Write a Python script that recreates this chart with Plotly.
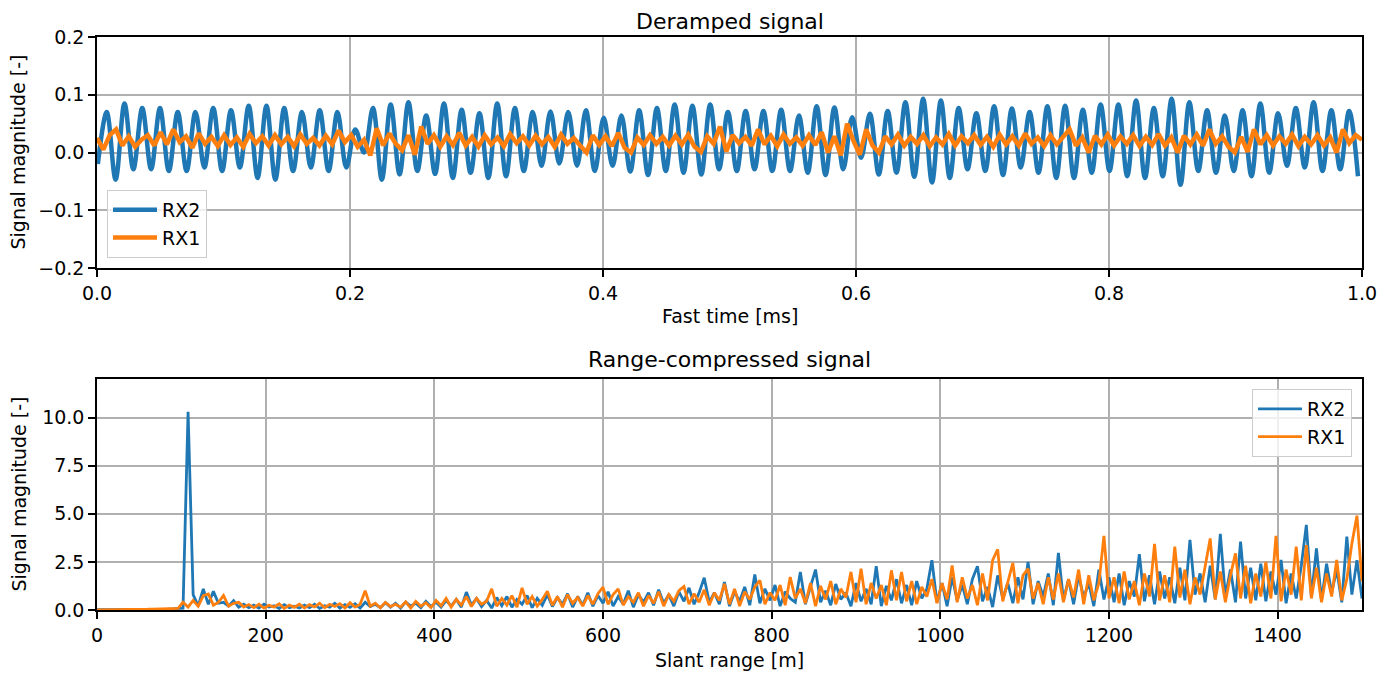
import numpy as np
import plotly.graph_objects as go

# ---------------- Top panel: deramped signal ----------------
# RX2: successive peak and trough values of the oscillation
rx2_peaks = [0.070, 0.085, 0.077, 0.077, 0.070, 0.070, 0.077, 0.073, 0.081, 0.081, 0.077, 0.070, 0.073, 0.070, 0.040, 0.077, 0.083, 0.087,
             0.064, 0.085, 0.074, 0.068, 0.085, 0.077, 0.070, 0.071, 0.070, 0.073, 0.060, 0.064, 0.073, 0.077, 0.083, 0.081, 0.083,
             0.070, 0.072, 0.072, 0.074, 0.064, 0.080, 0.078, 0.061, 0.067, 0.072, 0.087, 0.093, 0.090, 0.077, 0.068, 0.080, 0.076, 0.070,
             0.080, 0.081, 0.074, 0.083, 0.083, 0.090, 0.077, 0.093, 0.087, 0.073, 0.064, 0.073, 0.085, 0.068, 0.077, 0.087, 0.073, 0.072]
rx2_troughs = [-0.020,
               -0.047, -0.029, -0.029, -0.032, -0.032, -0.026, -0.032, -0.026, -0.044, -0.047, -0.032, -0.026, -0.032, -0.026, 0.000, -0.047, -0.038,
               -0.032, -0.037, -0.044, -0.035, -0.044, -0.041, -0.032, -0.023, -0.019, -0.023, -0.032, -0.023, -0.033, -0.039, -0.032, -0.035, -0.038, -0.029,
               -0.032, -0.029, -0.032, -0.032, -0.035, -0.039, -0.029, -0.009, -0.038, -0.035, -0.042, -0.052, -0.044, -0.029, -0.032, -0.039, -0.026, -0.035,
               -0.044, -0.044, -0.035, -0.032, -0.041, -0.044, -0.041, -0.056, -0.032, -0.035, -0.032, -0.041, -0.035, -0.023, -0.026, -0.032, -0.029, -0.041]
rx2_first_peak_ms = 0.0077
rx2_period_ms = 0.01403

# RX1: sampled values across the 1 ms window
rx1_top = [0.025, 0.005, 0.030, 0.040, 0.012, 0.028, 0.010, 0.022, 0.030, 0.012,
           0.035, 0.014, 0.040, 0.018, 0.028, 0.008, 0.033, 0.015, 0.027, 0.011,
           0.030, 0.013, 0.026, 0.010, 0.032, 0.016, 0.028, 0.012, 0.030, 0.014,
           0.027, 0.011, 0.031, 0.015, 0.025, 0.012, 0.029, 0.014, 0.038, 0.018,
           0.030, 0.010, 0.022, -0.005, 0.042, 0.012, 0.033, 0.015, 0.004, 0.030,
           -0.004, 0.045, 0.015, 0.030, 0.010, 0.028, 0.013, 0.034, 0.012, 0.027,
           0.010, 0.030, 0.014, 0.026, 0.011, 0.032, 0.016, 0.028, 0.012, 0.029,
           0.014, 0.027, 0.010, 0.031, 0.015, 0.025, 0.012, 0.000, 0.030, 0.013,
           0.028, 0.011, 0.034, 0.008, 0.000, 0.026, 0.013, 0.030, 0.015, 0.027,
           0.012, 0.029, 0.014, 0.031, 0.010, 0.001, 0.028, 0.015, 0.045, 0.002,
           0.030, 0.016, 0.027, 0.012, 0.040, 0.014, 0.029, 0.011, 0.031, 0.015,
           0.026, 0.012, 0.030, 0.013, 0.035, 0.000, 0.028, -0.005, 0.050, 0.020,
           -0.004, 0.040, 0.012, 0.000, 0.028, 0.014, 0.031, 0.012, 0.027, 0.015,
           0.030, 0.011, 0.026, 0.014, 0.032, 0.012, 0.028, 0.016, 0.030, 0.013,
           0.027, 0.010, 0.031, 0.014, 0.028, 0.012, 0.033, 0.015, 0.026, 0.011,
           0.030, 0.014, 0.027, 0.040, 0.012, 0.026, 0.000, 0.029, 0.014, 0.031,
           0.012, 0.028, 0.015, 0.030, 0.011, 0.027, 0.013, 0.032, 0.012, 0.026,
           0.000, 0.029, 0.014, 0.031, 0.012, 0.040, 0.015, 0.028, 0.010, 0.000,
           0.027, 0.001, 0.040, 0.014, 0.030, 0.012, 0.028, 0.015, 0.031, 0.011,
           0.027, 0.014, 0.030, 0.012, 0.026, 0.000, 0.040, 0.016, 0.030, 0.022]

# ---------------- Bottom panel: range-compressed ----------------
range_step_m = 6
rx2_bottom = [0.02, 0.02, 0.02, 0.02, 0.02, 0.02, 0.02, 0.02, 0.03, 0.03,
              0.03, 0.04, 0.04, 0.05, 0.05, 0.06, 0.07, 0.10, 10.30, 0.80,
              0.20, 1.10, 0.30, 0.97, 0.35, 0.40, 0.20, 0.49, 0.15, 0.30,
              0.12, 0.25, 0.10, 0.30, 0.15, 0.22, 0.08, 0.28, 0.12, 0.20,
              0.10, 0.25, 0.12, 0.30, 0.08, 0.22, 0.15, 0.35, 0.10, 0.28,
              0.14, 0.32, 0.10, 0.40, 0.18, 0.30, 0.12, 0.38, 0.15, 0.35,
              0.10, 0.42, 0.20, 0.35, 0.12, 0.45, 0.18, 0.40, 0.15, 0.50,
              0.20, 0.55, 0.15, 0.93, 0.25, 0.60, 0.18, 0.50, 0.10, 0.65,
              0.22, 0.70, 0.15, 0.55, 0.30, 0.75, 0.12, 0.60, 0.25, 0.80,
              0.18, 0.65, 0.30, 0.85, 0.15, 0.70, 0.25, 0.90, 0.20, 0.75,
              0.35, 0.95, 0.20, 0.70, 0.30, 1.00, 0.15, 0.80, 0.40, 0.90,
              0.25, 1.05, 0.35, 0.80, 0.20, 0.95, 0.45, 1.15, 0.30, 0.90,
              1.68, 0.40, 0.90, 0.30, 1.45, 0.20, 0.95, 0.45, 1.20, 0.25,
              1.85, 0.35, 1.10, 0.50, 1.30, 0.20, 0.95, 0.60, 0.40, 1.98,
              0.30, 1.20, 2.10, 0.40, 1.00, 0.25, 1.35, 0.55, 0.90, 0.20,
              1.40, 0.45, 1.10, 0.30, 2.27, 0.20, 1.25, 0.50, 1.60, 0.35,
              1.30, 0.25, 1.50, 0.60, 1.10, 2.59, 0.40, 1.40, 0.20, 1.70,
              0.50, 1.30, 0.30, 1.60, 2.27, 0.45, 1.20, 0.15, 1.80, 0.60,
              1.40, 0.35, 1.70, 0.55, 2.50, 0.30, 1.50, 0.70, 1.90, 0.25,
              2.97, 0.50, 1.60, 0.30, 1.80, 0.65, 1.40, 0.20, 2.10, 0.55,
              1.70, 0.40, 1.90, 0.25, 1.50, 0.70, 2.90, 0.45, 1.80, 0.30,
              2.00, 0.60, 1.70, 0.35, 2.20, 0.50, 3.64, 0.80, 1.90, 0.40,
              2.30, 0.55, 3.95, 0.70, 2.10, 0.40, 3.55, 0.60, 2.20, 0.50,
              2.40, 0.45, 2.00, 0.80, 2.60, 0.35, 1.90, 0.60, 2.30, 4.42,
              0.70, 3.20, 0.50, 2.40, 0.90, 2.10, 0.40, 3.81, 0.80, 2.59,
              0.60]
rx1_bottom = [0.01, 0.01, 0.01, 0.01, 0.01, 0.02, 0.02, 0.02, 0.03, 0.04,
              0.04, 0.05, 0.05, 0.06, 0.06, 0.07, 0.08, 0.40, 0.15, 0.50,
              0.20, 0.75, 0.83, 0.25, 0.40, 0.75, 0.20, 0.35, 0.40, 0.15,
              0.28, 0.12, 0.30, 0.10, 0.25, 0.15, 0.32, 0.08, 0.26, 0.14,
              0.30, 0.10, 0.28, 0.16, 0.35, 0.12, 0.30, 0.18, 0.33, 0.10,
              0.38, 0.15, 0.30, 1.00, 0.20, 0.35, 0.12, 0.40, 0.18, 0.30,
              0.15, 0.42, 0.10, 0.45, 0.20, 0.38, 0.12, 0.50, 0.22, 0.60,
              0.15, 0.55, 0.25, 0.70, 0.18, 0.60, 0.30, 0.45, 1.10, 0.20,
              0.60, 0.25, 0.75, 0.15, 1.15, 0.30, 0.70, 0.20, 0.55, 0.98,
              0.25, 0.70, 0.15, 0.80, 0.35, 0.65, 0.20, 0.75, 0.30, 0.85,
              1.19, 0.30, 0.80, 1.10, 0.25, 0.70, 0.40, 0.90, 0.20, 0.75,
              0.35, 0.95, 0.20, 0.80, 0.45, 1.00, 1.22, 0.30, 0.85, 0.40,
              1.05, 0.25, 0.90, 0.50, 1.36, 0.30, 1.10, 0.20, 0.95, 0.55,
              1.20, 1.54, 0.30, 0.90, 0.50, 1.30, 0.25, 1.71, 0.60, 1.10,
              0.35, 1.40, 0.20, 1.25, 0.55, 1.50, 0.30, 1.10, 0.65, 1.98,
              0.40, 2.15, 0.30, 1.40, 0.60, 1.30, 0.25, 2.06, 0.50, 1.98,
              0.45, 1.50, 0.30, 1.20, 0.70, 1.60, 0.35, 1.40, 0.55, 2.32,
              0.40, 1.70, 0.60, 1.30, 0.25, 1.90, 0.50, 2.59, 3.15, 0.45,
              1.50, 2.45, 0.35, 1.80, 2.15, 0.60, 1.40, 0.30, 1.70, 0.55,
              1.90, 0.40, 1.60, 0.65, 2.10, 0.30, 1.80, 0.50, 1.40, 3.85,
              0.60, 1.70, 0.35, 2.00, 0.55, 1.50, 0.25, 1.90, 0.70, 3.43,
              0.50, 1.80, 0.40, 3.29, 0.65, 2.10, 0.30, 1.70, 0.80, 2.20,
              3.72, 0.55, 2.00, 0.40, 1.80, 2.94, 0.60, 2.30, 0.35, 1.90,
              0.70, 2.50, 0.60, 3.85, 0.45, 2.10, 0.80, 3.29, 0.50, 3.37,
              0.60, 2.20, 0.40, 1.90, 0.70, 2.60, 0.50, 1.60, 3.46, 4.90,
              1.50]

# ---------------- Assemble series ----------------
rx2_top = [rx2_troughs[0]]
for k, p in enumerate(rx2_peaks):
    rx2_top += [p, rx2_troughs[k + 1]]
half = rx2_period_ms / 2
t_rx2 = rx2_first_peak_ms - half + np.arange(len(rx2_top)) * half
t_rx1 = np.linspace(0, 1, len(rx1_top))
r_bottom = np.arange(len(rx2_bottom)) * range_step_m

BLUE = "#1f77b4"
ORANGE = "#ff7f0e"
FONT = "DejaVu Sans"

fig = go.Figure()
fig.add_trace(go.Scatter(x=t_rx2, y=rx2_top, mode="lines", name="RX2",
                         line=dict(color=BLUE, width=4.5, shape="spline", smoothing=1.0),
                         xaxis="x", yaxis="y", legend="legend"))
fig.add_trace(go.Scatter(x=t_rx1, y=rx1_top, mode="lines", name="RX1",
                         line=dict(color=ORANGE, width=4.5),
                         xaxis="x", yaxis="y", legend="legend"))
fig.add_trace(go.Scatter(x=r_bottom, y=rx2_bottom, mode="lines", name="RX2",
                         line=dict(color=BLUE, width=2.8),
                         xaxis="x2", yaxis="y2", legend="legend2"))
fig.add_trace(go.Scatter(x=r_bottom, y=rx1_bottom, mode="lines", name="RX1",
                         line=dict(color=ORANGE, width=2.8),
                         xaxis="x2", yaxis="y2", legend="legend2"))

axis_common = dict(showline=True, mirror=True, linecolor="black", linewidth=1.5,
                   ticks="outside", ticklen=7, tickwidth=1.5, tickcolor="black",
                   showgrid=True, gridcolor="#b0b0b0", gridwidth=1.5, zeroline=False,
                   tickfont=dict(family=FONT, size=19, color="black"))

H_TOP0 = (610 - 268) / 573
H_BOT1 = (610 - 379) / 573

# the page body adds an 8 px offset, so the figure is 8 px smaller on each side
fig.update_layout(
    width=1387, height=667,
    margin=dict(l=89, r=33, t=29, b=65),
    paper_bgcolor="white", plot_bgcolor="white",
    font=dict(family=FONT, size=19, color="black"),
    xaxis=dict(domain=[0, 1], anchor="y", range=[0, 1], tickvals=[0, 0.2, 0.4, 0.6, 0.8, 1.0],
               tickformat=".1f", **axis_common),
    yaxis=dict(domain=[H_TOP0, 1], anchor="x", range=[-0.2, 0.2],
               tickvals=[-0.2, -0.1, 0.0, 0.1, 0.2], tickformat=".1f", **axis_common),
    xaxis2=dict(domain=[0, 1], anchor="y2", range=[0, 1500],
                tickvals=[0, 200, 400, 600, 800, 1000, 1200, 1400], **axis_common),
    yaxis2=dict(domain=[0, H_BOT1], anchor="x2", range=[0, 12],
                tickvals=[0, 2.5, 5, 7.5, 10], tickformat=".1f", **axis_common),
    legend=dict(x=(107 - 97) / 1265, y=(610 - 258) / 573, xanchor="left", yanchor="bottom",
                bgcolor="rgba(255,255,255,0.8)", bordercolor="#cccccc", borderwidth=1,
                font=dict(family=FONT, size=19), itemwidth=44, tracegroupgap=0),
    legend2=dict(x=(1352 - 97) / 1265, y=(610 - 389) / 573, xanchor="right", yanchor="top",
                 bgcolor="rgba(255,255,255,0.8)", bordercolor="#cccccc", borderwidth=1,
                 font=dict(family=FONT, size=19), itemwidth=44, tracegroupgap=0),
    showlegend=True,
)

ann = [
    dict(text="Deramped signal", x=0.5, y=(610 - 21) / 573, font=dict(size=22)),
    dict(text="Range-compressed signal", x=0.5, y=(610 - 359) / 573, font=dict(size=22)),
    dict(text="Fast time [ms]", x=0.5, y=(610 - 316) / 573, font=dict(size=19)),
    dict(text="Slant range [m]", x=0.5, y=(610 - 660) / 573, font=dict(size=19)),
    dict(text="Signal magnitude [-]", x=(18 - 97) / 1265, y=(610 - 152.5) / 573, font=dict(size=19), textangle=-90),
    dict(text="Signal magnitude [-]", x=(18 - 97) / 1265, y=(610 - 494.5) / 573, font=dict(size=19), textangle=-90),
]
for a in ann:
    fig.add_annotation(xref="paper", yref="paper", showarrow=False,
                       xanchor="center", yanchor="middle", **a)

fig.write_html("out.html")
